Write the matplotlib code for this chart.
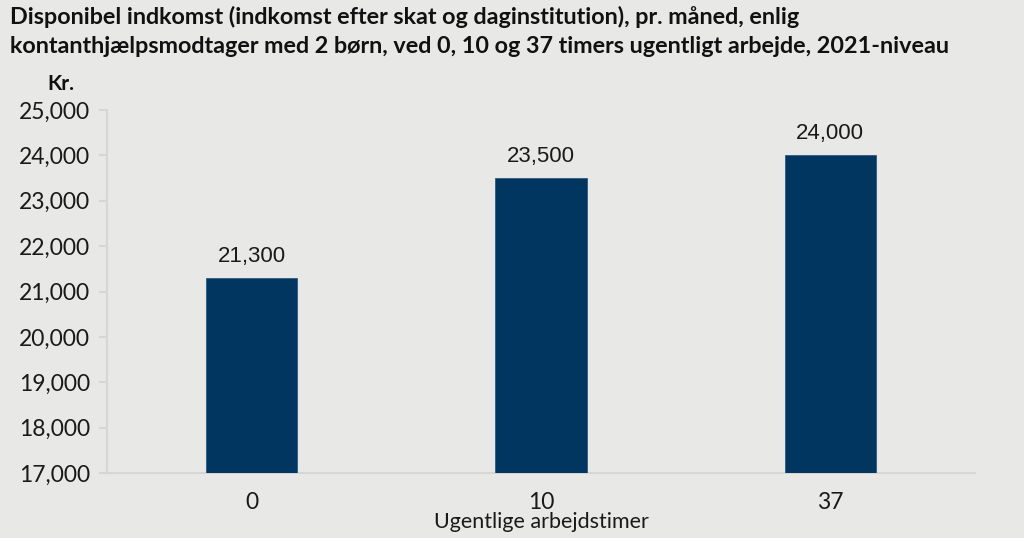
import matplotlib
matplotlib.use("Agg")
import matplotlib.pyplot as plt
from matplotlib.ticker import FuncFormatter

categories = ["0", "10", "37"]
values = [21300, 23500, 24000]
value_labels = ["21,300", "23,500", "24,000"]
yticks = [17000, 18000, 19000, 20000, 21000, 22000, 23000, 24000, 25000]

title = ("Disponibel indkomst (indkomst efter skat og daginstitution), pr. måned, enlig\n"
         "kontanthjælpsmodtager med 2 børn, ved 0, 10 og 37 timers ugentligt arbejde, 2021-niveau")

W, H = 1024, 538
bg = "#e8e8e7"
bar_color = "#00365f"
spine_color = "#d6d6d6"

fig = plt.figure(figsize=(W / 100, H / 100), dpi=100, facecolor=bg)
ax = fig.add_axes([107 / W, 1 - 473 / H, (975 - 107) / W, (473 - 110) / H])
ax.set_facecolor(bg)

x = list(range(len(categories)))
bars = ax.bar(x, values, width=0.315, color=bar_color, edgecolor="#2d5a80", linewidth=0.6, zorder=3)
ax.set_xlim(-0.5, len(categories) - 0.5)
ax.set_ylim(17000, 25000)
ax.set_yticks(yticks)
ax.yaxis.set_major_formatter(FuncFormatter(lambda v, p: f"{int(v):,}"))
ax.set_xticks(x)
ax.set_xticklabels(categories)

for b, lab in zip(bars, value_labels):
    ax.annotate(lab, (b.get_x() + b.get_width() / 2, b.get_height()),
                xytext=(0, 8), textcoords="offset points", ha="center", va="bottom",
                fontsize=16, family="Liberation Sans", color="#1a1a1a")

for s in ["top", "right"]:
    ax.spines[s].set_visible(False)
for s in ["left", "bottom"]:
    ax.spines[s].set_color(spine_color)
    ax.spines[s].set_linewidth(1.5)

ax.tick_params(axis="y", length=6, width=1.5, color=spine_color, pad=6,
               labelsize=16.5, labelcolor="#1a1a1a")
ax.tick_params(axis="x", length=0, pad=14, labelsize=16.5, labelcolor="#1a1a1a")
for t in ax.get_yticklabels() + ax.get_xticklabels():
    t.set_family("Lato")

ax.set_xlabel("Ugentlige arbejdstimer", fontsize=15.5, family="Lato", color="#1a1a1a", labelpad=-1)

fig.text(47 / W, 1 - 84 / H, "Kr.", fontsize=15, fontweight="bold", family="Lato",
         va="center", ha="left", color="#111111")
fig.text(10 / W, 1 - 6 / H, title, fontsize=16.8, fontweight="bold", family="Lato",
         va="top", ha="left", color="#111111", linespacing=1.45)

fig.savefig("out.png", dpi=100, facecolor=bg)
